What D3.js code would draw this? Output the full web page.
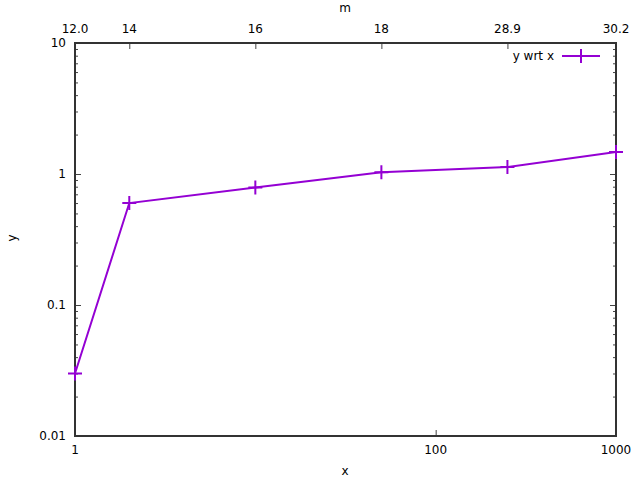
<!DOCTYPE html>
<html>
<head>
<meta charset="utf-8">
<script src="https://cdn.jsdelivr.net/npm/d3@7"></script>
<style>
  body { margin: 0; background: #fff; }
  text { font-family: "DejaVu Sans", sans-serif; font-size: 12px; fill: #000; }
</style>
</head>
<body>
<svg id="chart" width="640" height="480"></svg>
<script>
// datos
const xValores = [1, 2, 10, 50, 250, 1000];
const yValores = [0.03, 0.6, 0.79, 1.03, 1.13, 1.47];
const mEtiquetas = ["12.0", "14", "16", "18", "28.9", "30.2"];
const xTicks = [1, 100, 1000];
const yTicks = [0.01, 0.1, 1, 10];
const nombreSerie = "y wrt x";

const color = "#9400d3";
const izq = 75, der = 616, arriba = 43, abajo = 436;

const svg = d3.select("#chart");

const x = d3.scaleLog().domain([1, 1000]).range([izq, der]);
const y = d3.scaleLog().domain([0.01, 10]).range([abajo, arriba]);

// ticks menores del eje y (2..9 de cada decada)
const yMenores = [];
[0.01, 0.1, 1].forEach(d => {
  for (let k = 2; k <= 9; k++) yMenores.push(d * k);
});

const fmt = d => String(+d.toPrecision(3));

// eje izquierdo
svg.append("g")
  .attr("transform", `translate(${izq},0)`)
  .call(d3.axisRight(y).tickValues(yTicks).tickSize(6).tickFormat(""))
  .call(g => g.select(".domain").remove());
svg.append("g")
  .attr("transform", `translate(${izq},0)`)
  .call(d3.axisRight(y).tickValues(yMenores).tickSize(3).tickFormat(""))
  .call(g => g.select(".domain").remove());
yTicks.forEach(v => {
  svg.append("text")
    .attr("x", izq - 9)
    .attr("y", y(v))
    .attr("dy", "0.35em")
    .attr("text-anchor", "end")
    .text(fmt(v));
});

// eje derecho (espejo)
svg.append("g")
  .attr("transform", `translate(${der},0)`)
  .call(d3.axisLeft(y).tickValues(yTicks).tickSize(6).tickFormat(""))
  .call(g => g.select(".domain").remove());
svg.append("g")
  .attr("transform", `translate(${der},0)`)
  .call(d3.axisLeft(y).tickValues(yMenores).tickSize(3).tickFormat(""))
  .call(g => g.select(".domain").remove());

// eje inferior
svg.append("g")
  .attr("transform", `translate(0,${abajo})`)
  .call(d3.axisTop(x).tickValues(xTicks).tickSize(6).tickFormat(""))
  .call(g => g.select(".domain").remove());
xTicks.forEach(v => {
  svg.append("text")
    .attr("x", x(v))
    .attr("y", abajo + 18)
    .attr("text-anchor", "middle")
    .text(v);
});

// eje superior (m)
svg.append("g")
  .attr("transform", `translate(0,${arriba})`)
  .call(d3.axisBottom(x).tickValues(xValores).tickSize(6).tickFormat(""))
  .call(g => g.select(".domain").remove());
xValores.forEach((v, i) => {
  svg.append("text")
    .attr("x", x(v))
    .attr("y", arriba - 10)
    .attr("text-anchor", "middle")
    .text(mEtiquetas[i]);
});

svg.selectAll(".tick line").attr("stroke", "#444").attr("stroke-width", 1);

// marco
svg.append("rect")
  .attr("x", izq).attr("y", arriba)
  .attr("width", der - izq).attr("height", abajo - arriba)
  .attr("fill", "none")
  .attr("stroke", "#333")
  .attr("stroke-width", 2);

// titulos de ejes
svg.append("text").attr("x", 345).attr("y", 475).attr("text-anchor", "middle").text("x");
svg.append("text").attr("x", 345).attr("y", 12).attr("text-anchor", "middle").text("m");
svg.append("text")
  .attr("transform", "translate(16,238) rotate(-90)")
  .attr("text-anchor", "middle")
  .text("y");

// serie
const datos = xValores.map((v, i) => ({ x: v, y: yValores[i] }));
svg.append("path")
  .datum(datos)
  .attr("fill", "none")
  .attr("stroke", color)
  .attr("stroke-width", 2)
  .attr("d", d3.line().x(d => x(d.x)).y(d => y(d.y)));

function cruz(cx, cy) {
  svg.append("path")
    .attr("d", `M${cx - 7},${cy}H${cx + 7}M${cx},${cy - 7}V${cy + 7}`)
    .attr("stroke", color)
    .attr("stroke-width", 2)
    .attr("fill", "none");
}
datos.forEach(d => cruz(x(d.x), y(d.y)));

// leyenda
svg.append("text")
  .attr("x", 554).attr("y", 56).attr("dy", "0.35em")
  .attr("text-anchor", "end")
  .text(nombreSerie);
svg.append("line")
  .attr("x1", 562).attr("x2", 600).attr("y1", 56).attr("y2", 56)
  .attr("stroke", color).attr("stroke-width", 2);
cruz(581, 56);
</script>
</body>
</html>
